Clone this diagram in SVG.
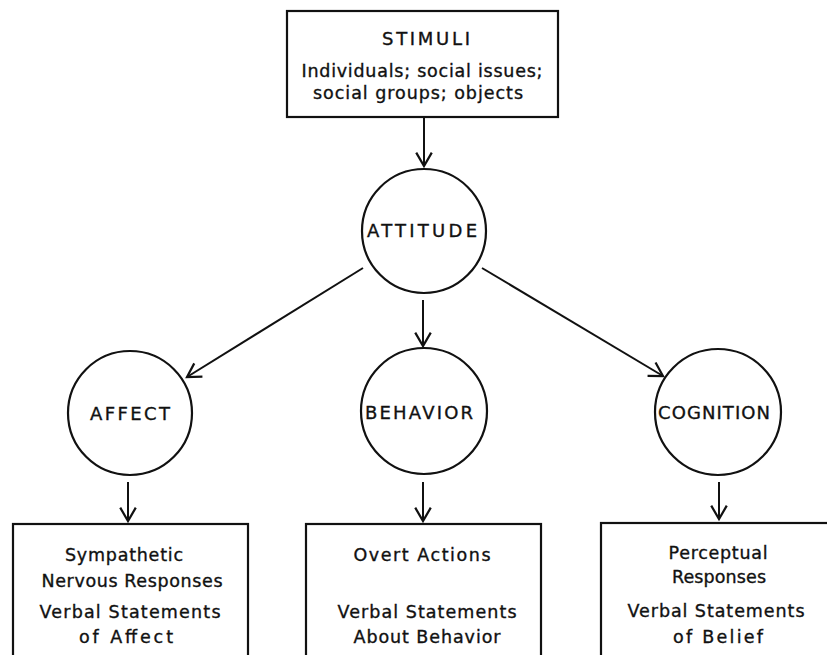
<svg xmlns="http://www.w3.org/2000/svg" width="827" height="655" viewBox="0 0 827 655">
<style>
  .box { fill: none; stroke: #111; stroke-width: 2.2; }
  .node { fill: none; stroke: #111; stroke-width: 2.2; }
  .edge { fill: none; stroke: #111; stroke-width: 2; marker-end: url(#arr); }
  text { font-family: "DejaVu Sans", "Liberation Sans", sans-serif; fill: #111; stroke: #111; stroke-width: 0.35; text-anchor: middle; }
  .lbl { font-size: 18px; }
  .txt { font-size: 17.5px; }
</style>
<defs>
  <marker id="arr" markerUnits="userSpaceOnUse" markerWidth="20" markerHeight="20" viewBox="-14 -9 16 18" refX="0" refY="0" orient="auto">
    <path d="M-12,-7 L0,0 L-12,7" fill="none" stroke="#111" stroke-width="2"/>
  </marker>
</defs>
<rect width="827" height="655" fill="#fff"/>

<g id="stimuli">
  <rect class="box" x="287" y="11" width="271" height="106"/>
  <text class="lbl" x="426" y="45" textLength="88" lengthAdjust="spacing">STIMULI</text>
  <text class="txt" x="422" y="77" textLength="241" lengthAdjust="spacing">Individuals; social issues;</text>
  <text class="txt" x="418" y="99" textLength="210" lengthAdjust="spacing">social groups; objects</text>
</g>

<g id="attitude">
  <circle class="node" cx="424" cy="231" r="62"/>
  <text class="lbl" x="422" y="237" textLength="110" lengthAdjust="spacing">ATTITUDE</text>
</g>

<g id="affect">
  <circle class="node" cx="130" cy="413" r="62"/>
  <text class="lbl" x="130" y="420" textLength="80" lengthAdjust="spacing">AFFECT</text>
</g>

<g id="behavior">
  <circle class="node" cx="424" cy="411" r="63"/>
  <text class="lbl" x="419" y="419" textLength="108" lengthAdjust="spacing">BEHAVIOR</text>
</g>

<g id="cognition">
  <circle class="node" cx="718" cy="412" r="63"/>
  <text class="lbl" x="714" y="419" textLength="112" lengthAdjust="spacing">COGNITION</text>
</g>

<g id="affect-measures">
  <rect class="box" x="13" y="524" width="235" height="150"/>
  <text class="txt" x="124" y="561" textLength="118" lengthAdjust="spacing">Sympathetic</text>
  <text class="txt" x="132" y="587" textLength="181" lengthAdjust="spacing">Nervous Responses</text>
  <text class="txt" x="130" y="618" textLength="181" lengthAdjust="spacing">Verbal Statements</text>
  <text class="txt" x="126" y="643" textLength="94" lengthAdjust="spacing">of Affect</text>
</g>

<g id="behavior-measures">
  <rect class="box" x="306" y="524" width="235" height="150"/>
  <text class="txt" x="422" y="561" textLength="137" lengthAdjust="spacing">Overt Actions</text>
  <text class="txt" x="427" y="618" textLength="179" lengthAdjust="spacing">Verbal Statements</text>
  <text class="txt" x="427" y="643" textLength="147" lengthAdjust="spacing">About Behavior</text>
</g>

<g id="cognition-measures">
  <rect class="box" x="601" y="523" width="240" height="150"/>
  <text class="txt" x="718" y="559" textLength="99" lengthAdjust="spacing">Perceptual</text>
  <text class="txt" x="719" y="583" textLength="94" lengthAdjust="spacing">Responses</text>
  <text class="txt" x="716" y="617" textLength="177" lengthAdjust="spacing">Verbal Statements</text>
  <text class="txt" x="718" y="643" textLength="90" lengthAdjust="spacing">of Belief</text>
</g>

<g id="connectors">
  <line class="edge" x1="424" y1="118" x2="424" y2="166"/>
  <line class="edge" x1="423" y1="300" x2="423" y2="346"/>
  <line class="edge" x1="363" y1="268" x2="187" y2="377"/>
  <line class="edge" x1="482" y1="268" x2="663" y2="376"/>
  <line class="edge" x1="128" y1="482" x2="128" y2="521"/>
  <line class="edge" x1="423" y1="482" x2="423" y2="521"/>
  <line class="edge" x1="719" y1="482" x2="719" y2="519"/>
</g>
</svg>
